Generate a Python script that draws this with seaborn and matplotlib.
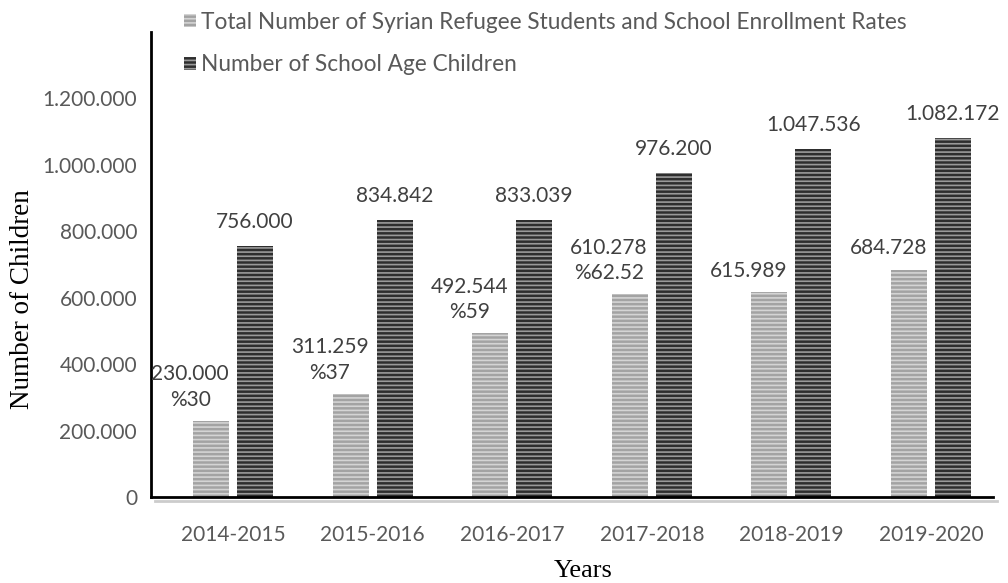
import matplotlib
matplotlib.use("Agg")
import matplotlib.pyplot as plt
import matplotlib.patheffects as pe
from matplotlib.patches import Patch
import seaborn as sns
import pandas as pd

# School years on the x axis
years = ["2014-2015", "2015-2016", "2016-2017", "2017-2018", "2018-2019", "2019-2020"]

# Syrian refugee students enrolled, and enrollment rate where reported
students = [230000, 311259, 492544, 610278, 615989, 684728]
rates = ["%30", "%37", "%59", "%62.52", "", ""]

# Syrian children of school age
school_age = [756000, 834842, 833039, 976200, 1047536, 1082172]

series_students = "Total Number of Syrian Refugee Students and School Enrollment Rates"
series_age = "Number of School Age Children"

y_ticks = [0, 200000, 400000, 600000, 800000, 1000000, 1200000]


def dotted(n):
    """Format an integer with dots as thousands separators."""
    return f"{n:,}".replace(",", ".")


df = pd.DataFrame({
    "Years": years * 2,
    "Children": students + school_age,
    "Series": [series_students] * len(years) + [series_age] * len(years),
})

sns.set_theme(style="white")
plt.rcParams["font.family"] = ["Lato", "DejaVu Sans"]
plt.rcParams["hatch.linewidth"] = 1.2

fig = plt.figure(figsize=(10.08, 5.83), dpi=100)
ax = fig.add_axes([0.1498, 0.1475, 0.8353, 0.7976])

light_face, light_hatch = "#a3a3a3", "#d4d4d4"
dark_face, dark_hatch = "#2e2e2e", "#9a9a9a"

sns.barplot(
    data=df, x="Years", y="Children", hue="Series",
    hue_order=[series_students, series_age],
    palette=[light_face, dark_face],
    width=0.63, gap=0.18, ax=ax, legend=False,
)

styles = [(light_face, light_hatch), (dark_face, dark_hatch)]
for container, (face, hatch_col) in zip(ax.containers, styles):
    for bar in container:
        bar.set_facecolor(face)
        bar.set_edgecolor(hatch_col)
        bar.set_hatch("----")
        bar.set_linewidth(0)

ax.set_ylim(0, 1400000)
ax.set_xlim(-0.587, 5.444)
ax.set_yticks(y_ticks)
ax.set_yticklabels([dotted(v) for v in y_ticks])

label_color = "#595959"
value_color = "#404040"
ax.tick_params(axis="y", length=0, pad=10, labelsize=15, labelcolor=label_color)
ax.tick_params(axis="x", length=0, pad=20, labelsize=15, labelcolor=label_color)

for side in ("top", "right"):
    ax.spines[side].set_visible(False)
for side in ("left", "bottom"):
    ax.spines[side].set_color("black")
    ax.spines[side].set_linewidth(2)
ax.spines["bottom"].set_path_effects([
    pe.SimpleLineShadow(offset=(3, -3), shadow_color="#9a9a9a", alpha=0.5),
    pe.Normal(),
])

# Value labels above the bars
light_bars, dark_bars = ax.containers[0], ax.containers[1]
for bar, value, rate in zip(light_bars, students, rates):
    cx = bar.get_x() + bar.get_width() / 2
    text = dotted(value) + ("\n" + rate if rate else "")
    ax.annotate(text, (cx, value), xytext=(-15, 8), textcoords="offset points",
                ha="center", va="bottom", fontsize=15, color=value_color,
                linespacing=1.35)
for bar, value in zip(dark_bars, school_age):
    cx = bar.get_x() + bar.get_width() / 2
    ax.annotate(dotted(value), (cx, value), xytext=(0, 10), textcoords="offset points",
                ha="center", va="bottom", fontsize=15, color=value_color)

ax.set_xlabel("Years", family=["Liberation Serif"], fontsize=19, color="black")
ax.set_ylabel("Number of Children", family=["Liberation Serif"], fontsize=19.5, color="black")
ax.xaxis.set_label_coords(0.513, -0.136)
ax.yaxis.set_label_coords(-0.138, 0.426)

# Legend with small square swatches, placed above the plot area
handles = [
    Patch(facecolor=light_face, edgecolor=light_hatch, hatch="----", linewidth=0),
    Patch(facecolor=dark_face, edgecolor=dark_hatch, hatch="----", linewidth=0),
]
leg = fig.legend(handles, [series_students, series_age], loc="upper left",
                 bbox_to_anchor=(0.174, 0.995), frameon=False, fontsize=16.3,
                 handlelength=0.5, handleheight=0.5, handletextpad=0.25,
                 labelspacing=0.95, borderaxespad=0)
for t in leg.get_texts():
    t.set_color(label_color)

fig.savefig("out.png", dpi=100)
